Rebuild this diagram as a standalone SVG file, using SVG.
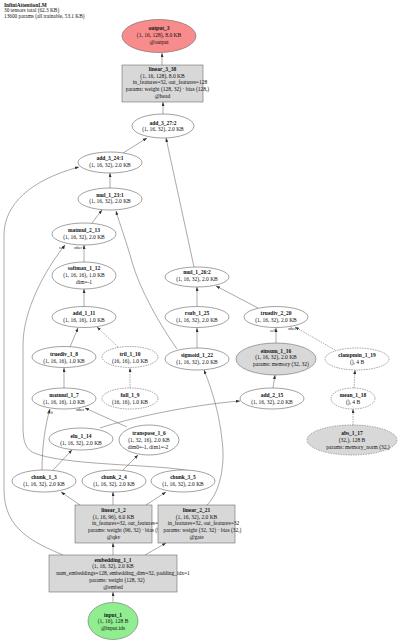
<svg xmlns="http://www.w3.org/2000/svg" width="400" height="640" viewBox="0 0 400 640">
<defs>
<marker id="ah" viewBox="0 0 8 6" refX="8" refY="3" markerWidth="4" markerHeight="3" markerUnits="userSpaceOnUse" orient="auto"><path d="M0,0 L8,3 L0,6 z" fill="#333"/></marker>
<style>
text{font-family:"Liberation Serif","Times New Roman",serif;font-size:5.5px;fill:#111;text-anchor:middle}
.b{font-weight:bold}
.hd{text-anchor:start;font-size:5.3px}
.s{text-anchor:start}
.lbl{font-size:4px;fill:#222}
.n{fill:#fff;stroke:#444;stroke-width:0.5}
.g{fill:#d8d8d8;stroke:#555;stroke-width:0.5}
.d{stroke-dasharray:1.5,1}
.o{fill:#f88c8c;stroke:#555;stroke-width:0.5}
.i{fill:#90ee90;stroke:#555;stroke-width:0.5}
.e path{fill:none;stroke:#555;stroke-width:0.5;marker-end:url(#ah)}
.e path.d{stroke-dasharray:1.5,1}
</style>
</defs>
<rect width="400" height="640" fill="#fff"/>
<g id="header">
<text class="hd b" x="4" y="6.5">InfiniAttentionLM</text>
<text class="hd" x="4" y="12">30 tensors total (62.3 KB)</text>
<text class="hd" x="4" y="17.5">13600 params (all trainable, 53.1 KB)</text>
</g>
<g id="connectors" class="e">
<path d="M113,602 L113,592"/>
<path d="M113,555 L113,543"/>
<path d="M145,555 L166,543"/>
<path d="M63,555 C35,543 4,530 4,490 L4,235 C4,205 30,180 79,167"/>
<path d="M80,505 L61,492"/>
<path d="M113,505 L113,492"/>
<path d="M146,505 L166,492"/>
<path d="M42,470 C42,448 45,425 50,409"/>
<path d="M53,470 L72,450"/>
<path d="M123,470 L138,455"/>
<path d="M127,427 L85,408"/>
<path d="M64,388 L64,368"/>
<path class="d" d="M130,388 L130,368"/>
<path d="M70,347 L78,328"/>
<path class="d" d="M118,347 L97,327"/>
<path d="M84,307 L84,289"/>
<path d="M84,262 L84,245"/>
<path d="M190,471 C160,464 60,466 32,452 C24,447 23,438 23,425 L23,345 C23,310 45,270 65,245"/>
<path d="M92,223 L102,210"/>
<path d="M110,188 L110,173"/>
<path d="M123,153 L147,138"/>
<path d="M163,114 L163,102"/>
<path d="M162,65 L162,53"/>
<path d="M207,505 C222,490 225,460 222,440 C219,410 210,385 204,370"/>
<path d="M177,349 C160,325 140,290 132,262 C126,240 120,225 116,211"/>
<path d="M197,348 L197,328"/>
<path d="M197,306 L197,287"/>
<path d="M258,308 L216,286"/>
<path d="M194,267 L166,138"/>
<path d="M100,428 C130,418 190,405 240,401"/>
<path d="M273,388 L275,375"/>
<path d="M276,343 L276,328"/>
<path class="d" d="M353,425 L353,409"/>
<path class="d" d="M354,388 L355,370"/>
<path class="d" d="M335,350 L295,327"/>
<text class="lbl" x="62" y="249">self</text>
<text class="lbl" x="78" y="249">other</text>
<text class="lbl" x="50" y="413.5">self</text>
<text class="lbl" x="80" y="411">other</text>
<text class="lbl" x="273" y="332">self</text>
<text class="lbl" x="292" y="330">other</text>
</g>
<g id="output_3"><ellipse class="o" cx="159" cy="36" rx="37" ry="16.5"/>
<text class="b" x="159" y="30">output_3</text><text x="159" y="37">(1, 16, 128), 8.0 KB</text><text x="159" y="44">@output</text></g>
<g id="linear_3_38"><rect class="g" x="122" y="65" width="81" height="37"/>
<text class="b" x="162.5" y="70.8">linear_3_38</text><text x="162.5" y="77.6">(1, 16, 128), 8.0 KB</text><text x="170" y="84.4">in_features=32, out_features=128</text><text x="167.5" y="91.2">params: weight (128, 32) · bias (128,)</text><text x="162.5" y="98">@head</text></g>
<g id="add_3_27_2"><ellipse class="n" cx="163" cy="126" rx="31" ry="12"/>
<text class="b" x="163" y="124.5">add_3_27:2</text><text x="163" y="131.2">(1, 16, 32), 2.0 KB</text></g>
<g id="add_3_24_1"><ellipse class="n" cx="110" cy="162.5" rx="32" ry="10.5"/>
<text class="b" x="110" y="160">add_3_24:1</text><text x="110" y="166.8">(1, 16, 32), 2.0 KB</text></g>
<g id="mul_1_23_1"><ellipse class="n" cx="110" cy="199" rx="32" ry="11"/>
<text class="b" x="110" y="196.5">mul_1_23:1</text><text x="110" y="203.3">(1, 16, 32), 2.0 KB</text></g>
<g id="matmul_2_13"><ellipse class="n" cx="84" cy="234" rx="32" ry="11"/>
<text class="b" x="84" y="232.3">matmul_2_13</text><text x="84" y="239.1">(1, 16, 32), 2.0 KB</text></g>
<g id="softmax_1_12"><ellipse class="n" cx="84" cy="275.5" rx="32" ry="13.5"/>
<text class="b" x="84" y="270">softmax_1_12</text><text x="84" y="277.2">(1, 16, 16), 1.0 KB</text><text x="84" y="284.4">dim=-1</text></g>
<g id="add_1_11"><ellipse class="n" cx="84" cy="317" rx="32" ry="10.5"/>
<text class="b" x="84" y="314.7">add_1_11</text><text x="84" y="321.5">(1, 16, 16), 1.0 KB</text></g>
<g id="truediv_1_8"><ellipse class="n" cx="64" cy="357" rx="32" ry="10.5"/>
<text class="b" x="64" y="355.7">truediv_1_8</text><text x="64" y="362.5">(1, 16, 16), 1.0 KB</text></g>
<g id="tril_1_10"><ellipse class="n d" cx="130" cy="357" rx="28" ry="10.5"/>
<text class="b" x="130" y="355.7">tril_1_10</text><text x="130" y="362.5">(16, 16), 1.0 KB</text></g>
<g id="matmul_1_7"><ellipse class="n" cx="64" cy="398.5" rx="32" ry="10.5"/>
<text class="b" x="64" y="396.7">matmul_1_7</text><text x="64" y="403.5">(1, 16, 16), 1.0 KB</text></g>
<g id="full_1_9"><ellipse class="n d" cx="130" cy="398.5" rx="28" ry="10.5"/>
<text class="b" x="130" y="396.7">full_1_9</text><text x="130" y="403.5">(16, 16), 1.0 KB</text></g>
<g id="elu_1_14"><ellipse class="n" cx="81" cy="439" rx="32" ry="11"/>
<text class="b" x="81" y="437.7">elu_1_14</text><text x="81" y="444.5">(1, 16, 32), 2.0 KB</text></g>
<g id="transpose_1_6"><ellipse class="n" cx="149" cy="440" rx="30" ry="15"/>
<text class="b" x="149" y="434.7">transpose_1_6</text><text x="149" y="441.7">(1, 32, 16), 2.0 KB</text><text x="148" y="448.9">dim0=-1, dim1=-2</text></g>
<g id="chunk_1_3"><ellipse class="n" cx="44" cy="481" rx="32" ry="11"/>
<text class="b" x="44" y="478.7">chunk_1_3</text><text x="44" y="485.5">(1, 16, 32), 2.0 KB</text></g>
<g id="chunk_2_4"><ellipse class="n" cx="114" cy="481" rx="32" ry="11"/>
<text class="b" x="114" y="478.7">chunk_2_4</text><text x="114" y="485.5">(1, 16, 32), 2.0 KB</text></g>
<g id="chunk_3_5"><ellipse class="n" cx="183" cy="481" rx="32" ry="11"/>
<text class="b" x="183" y="478.7">chunk_3_5</text><text x="183" y="485.5">(1, 16, 32), 2.0 KB</text></g>
<g id="mul_1_26_2"><ellipse class="n" cx="197" cy="277" rx="32" ry="10"/>
<text class="b" x="197" y="274">mul_1_26:2</text><text x="197" y="280.8">(1, 16, 32), 2.0 KB</text></g>
<g id="rsub_1_25"><ellipse class="n" cx="197" cy="317" rx="32" ry="10.5"/>
<text class="b" x="197" y="314.7">rsub_1_25</text><text x="197" y="321.5">(1, 16, 32), 2.0 KB</text></g>
<g id="sigmoid_1_22"><ellipse class="n" cx="197" cy="359" rx="32" ry="11"/>
<text class="b" x="197" y="356.7">sigmoid_1_22</text><text x="197" y="363.5">(1, 16, 32), 2.0 KB</text></g>
<g id="truediv_2_20"><ellipse class="n" cx="276" cy="317" rx="32" ry="10.5"/>
<text class="b" x="276" y="314.7">truediv_2_20</text><text x="276" y="321.5">(1, 16, 32), 2.0 KB</text></g>
<g id="einsum_1_16"><ellipse class="g" cx="276" cy="359" rx="40" ry="16"/>
<text class="b" x="276" y="352.7">einsum_1_16</text><text x="276" y="359.2">(1, 16, 32), 2.0 KB</text><text x="281" y="365.9">params: memory (32, 32)</text></g>
<g id="clampmin_1_19"><ellipse class="n d" cx="357" cy="359" rx="32" ry="11"/>
<text class="b" x="357" y="356.7">clampmin_1_19</text><text x="357" y="363.5">(), 4 B</text></g>
<g id="add_2_15"><ellipse class="n" cx="272" cy="398.5" rx="32" ry="10.5"/>
<text class="b" x="272" y="396.7">add_2_15</text><text x="272" y="403.5">(1, 16, 32), 2.0 KB</text></g>
<g id="mean_1_18"><ellipse class="n d" cx="353" cy="398.5" rx="22" ry="10.5"/>
<text class="b" x="353" y="396.7">mean_1_18</text><text x="353" y="403.5">(), 4 B</text></g>
<g id="abs_1_17"><ellipse class="g d" cx="352" cy="440" rx="45" ry="15"/>
<text class="b" x="352" y="434.7">abs_1_17</text><text x="352" y="441.7">(32,), 128 B</text><text x="358" y="448.7">params: memory_norm (32,)</text></g>
<g id="linear_1_2"><rect class="g" x="75" y="505" width="77" height="38"/>
<text class="b" x="113.5" y="511.7">linear_1_2</text><text x="113.5" y="518.5">(1, 16, 96), 6.0 KB</text><text class="s" x="92" y="525.3">in_features=32, out_features=96</text><text class="s" x="88" y="532.1">params: weight (96, 32) · bias (96,)</text><text x="113.5" y="538.9">@qkv</text></g>
<g id="linear_2_21"><rect class="g" x="158" y="505" width="77" height="38"/>
<text class="b" x="196.5" y="511.7">linear_2_21</text><text x="196.5" y="518.5">(1, 16, 32), 2.0 KB</text><text x="203.5" y="525.3">in_features=32, out_features=32</text><text x="202.5" y="532.1">params: weight (32, 32) · bias (32,)</text><text x="196.5" y="538.9">@gate</text></g>
<g id="embedding_1_1"><rect class="g" x="49" y="555" width="128" height="37"/>
<text class="b" x="113" y="561.5">embedding_1_1</text><text x="113" y="568.3">(1, 16, 32), 2.0 KB</text><text x="123" y="575.1">num_embeddings=128, embedding_dim=32, padding_idx=1</text><text x="117" y="581.9">params: weight (128, 32)</text><text x="113" y="588.7">@embed</text></g>
<g id="input_1"><ellipse class="i" cx="113" cy="621" rx="25" ry="18.5"/>
<text class="b" x="113" y="616.5">input_1</text><text x="113" y="623.3">(1, 16), 128 B</text><text x="113" y="630.1">@input.ids</text></g>
</svg>
